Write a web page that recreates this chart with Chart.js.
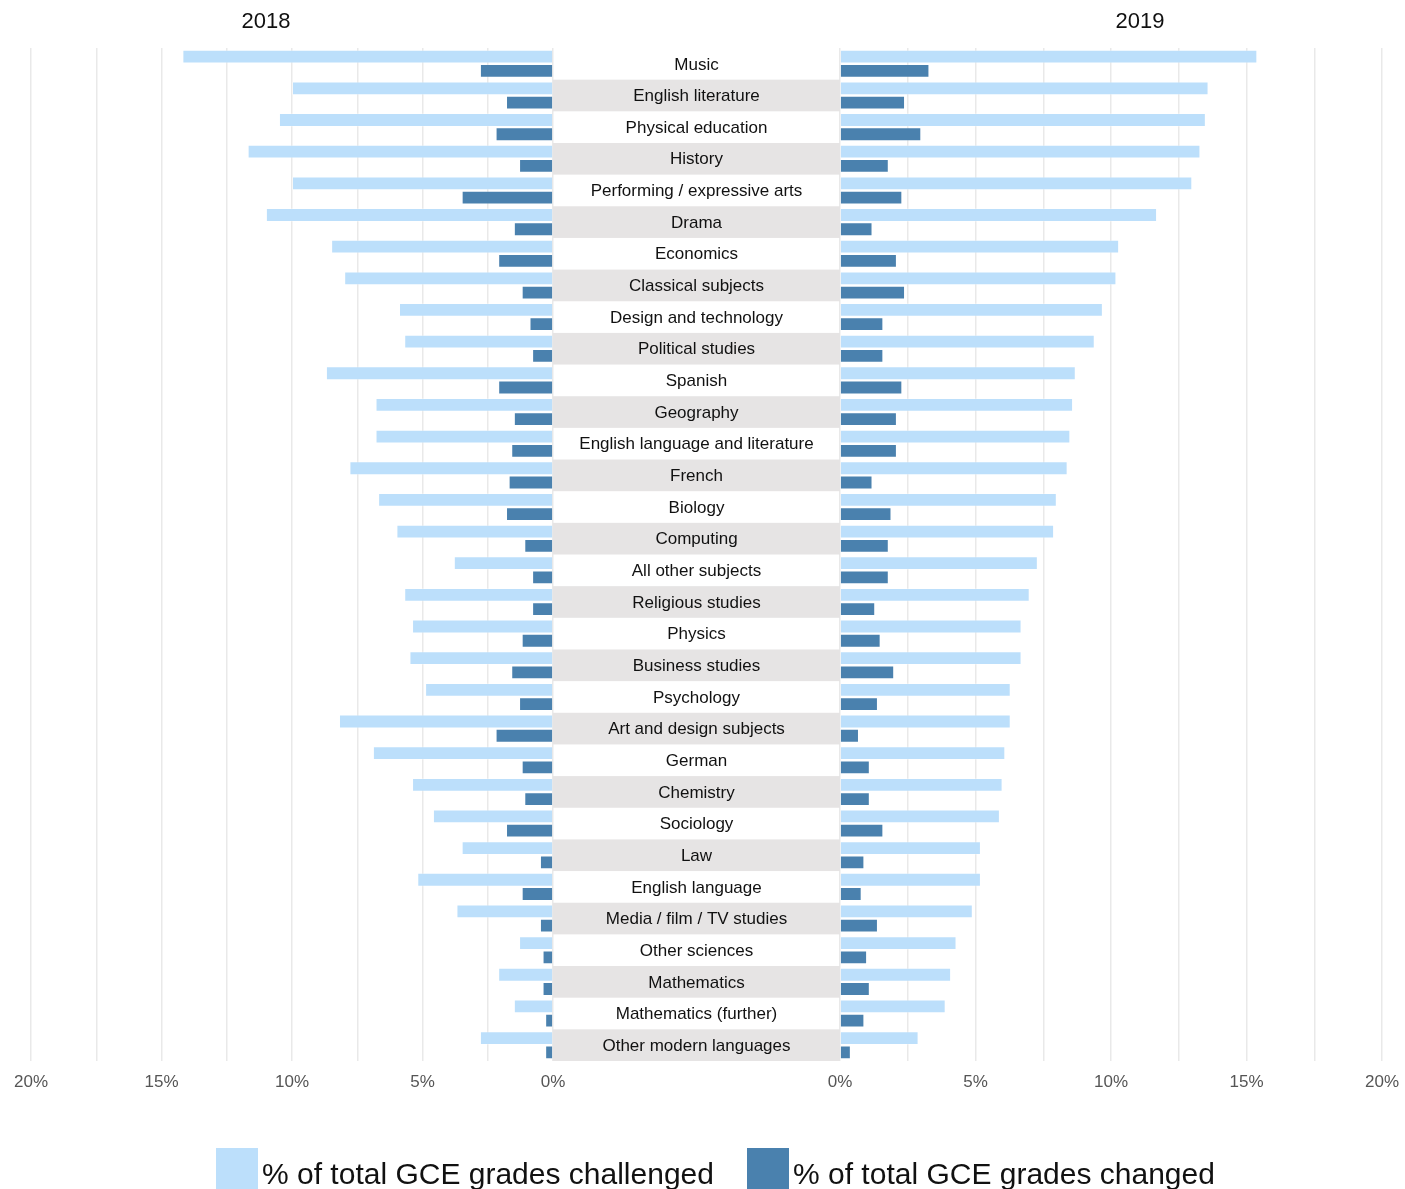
<!DOCTYPE html>
<html>
<head>
<meta charset="utf-8">
<script src="https://cdn.jsdelivr.net/npm/chart.js@4/dist/chart.umd.min.js"></script>
<style>
  html, body { margin: 0; padding: 0; background: #fff; }
  #wrap { position: relative; width: 1405px; height: 1189px; overflow: hidden; font-family: "Liberation Sans", Arial, sans-serif; }
  canvas { position: absolute; left: 0; top: 0; }
  .yr { position: absolute; top: 8px; font-size: 22px; color: #111; transform: translateX(-50%); }
  .leg { position: absolute; top: 1148px; height: 46px; display: flex; align-items: center; font-size: 30px; color: #111; }
  .leg span { position: relative; top: 3px; }
  .sw { width: 42px; height: 46px; margin-right: 4px; }
</style>
</head>
<body>
<div id="wrap">
  <canvas id="left" width="1405" height="1189"></canvas>
  <canvas id="right" width="1405" height="1189"></canvas>
  <div class="yr" style="left:266px">2018</div>
  <div class="yr" style="left:1140px">2019</div>
  <div class="leg" style="left:216px"><div class="sw" style="background:#bcdffb"></div><span>% of total GCE grades challenged</span></div>
  <div class="leg" style="left:747px"><div class="sw" style="background:#4a81ae"></div><span>% of total GCE grades changed</span></div>
</div>
<script>
const categories = ["Music","English literature","Physical education","History","Performing / expressive arts","Drama","Economics","Classical subjects","Design and technology","Political studies","Spanish","Geography","English language and literature","French","Biology","Computing","All other subjects","Religious studies","Physics","Business studies","Psychology","Art and design subjects","German","Chemistry","Sociology","Law","English language","Media / film / TV studies","Other sciences","Mathematics","Mathematics (further)","Other modern languages"];
const challenged2018 = [14.2,10.0,10.5,11.7,10.0,11.0,8.5,8.0,5.9,5.7,8.7,6.8,6.8,7.8,6.7,6.0,3.8,5.7,5.4,5.5,4.9,8.2,6.9,5.4,4.6,3.5,5.2,3.7,1.3,2.1,1.5,2.8];
const changed2018 = [2.8,1.8,2.2,1.3,3.5,1.5,2.1,1.2,0.9,0.8,2.1,1.5,1.6,1.7,1.8,1.1,0.8,0.8,1.2,1.6,1.3,2.2,1.2,1.1,1.8,0.5,1.2,0.5,0.4,0.4,0.3,0.3];
const challenged2019 = [15.4,13.6,13.5,13.3,13.0,11.7,10.3,10.2,9.7,9.4,8.7,8.6,8.5,8.4,8.0,7.9,7.3,7.0,6.7,6.7,6.3,6.3,6.1,6.0,5.9,5.2,5.2,4.9,4.3,4.1,3.9,2.9];
const changed2019 = [3.3,2.4,3.0,1.8,2.3,1.2,2.1,2.4,1.6,1.6,2.3,2.1,2.1,1.2,1.9,1.8,1.8,1.3,1.5,2.0,1.4,0.7,1.1,1.1,1.6,0.9,0.8,1.4,1.0,1.1,0.9,0.4];
const seriesNames = ["% of total GCE grades challenged", "% of total GCE grades changed"];
const axisMin = 0, axisMax = 20, gridStep = 2.5, labelStep = 5;

const LIGHT = '#bcdffb', DARK = '#4a81ae';
const FONT = '"Liberation Sans", Arial, sans-serif';

function datasets(a, b) {
  return [
    { label: seriesNames[0], data: a, backgroundColor: LIGHT, borderColor: 'rgba(255,255,255,0.3)', borderWidth: 1, categoryPercentage: 0.9, barPercentage: 0.97 },
    { label: seriesNames[1], data: b, backgroundColor: DARK, borderColor: 'rgba(255,255,255,0.2)', borderWidth: 1, categoryPercentage: 0.9, barPercentage: 0.97 }
  ];
}

function xScale(reverse) {
  return {
    type: 'linear', min: axisMin, max: axisMax, reverse: reverse,
    border: { display: false },
    grid: { color: '#e9e9e9', lineWidth: 1.5, drawTicks: false },
    ticks: {
      stepSize: gridStep, autoSkip: false, padding: 11, color: '#555',
      font: { family: FONT, size: 17 },
      callback: v => (v % labelStep === 0 ? v + '%' : '')
    },
    afterFit: s => { s.height = 40; s.paddingLeft = 0; s.paddingRight = 0; }
  };
}

const bandPlugin = {
  id: 'bands',
  afterDraw(chart) {
    const y = chart.scales.y;
    const ctx = chart.ctx;
    const h = Math.abs(y.getPixelForValue(1) - y.getPixelForValue(0));
    const cx = (y.left + y.right) / 2;
    ctx.save();
    categories.forEach((c, i) => {
      const cy = y.getPixelForValue(i);
      if (i % 2 === 1) {
        ctx.fillStyle = '#e6e4e4';
        ctx.fillRect(y.left, cy - h / 2, y.right - y.left, h);
      }
      ctx.fillStyle = '#111';
      ctx.font = '17px ' + FONT;
      ctx.textAlign = 'center';
      ctx.textBaseline = 'middle';
      ctx.fillText(c, cx, cy + 1);
    });
    ctx.restore();
  }
};

const common = {
  indexAxis: 'y', responsive: false, animation: false,
  plugins: { legend: { display: false }, tooltip: { enabled: false } }
};

new Chart(document.getElementById('left'), {
  type: 'bar',
  data: { labels: categories, datasets: datasets(challenged2018, changed2018) },
  options: Object.assign({}, common, {
    layout: { padding: { left: 31, right: 852, top: 48, bottom: 88 } },
    scales: {
      x: xScale(true),
      y: { display: false }
    }
  })
});

new Chart(document.getElementById('right'), {
  type: 'bar',
  data: { labels: categories, datasets: datasets(challenged2019, changed2019) },
  options: Object.assign({}, common, {
    layout: { padding: { left: 553, right: 23, top: 48, bottom: 88 } },
    scales: {
      x: xScale(false),
      y: {
        position: 'left',
        border: { display: false },
        grid: { display: false, drawTicks: false },
        ticks: { display: false },
        afterFit: s => { s.width = 287; }
      }
    }
  }),
  plugins: [bandPlugin]
});
</script>
</body>
</html>
